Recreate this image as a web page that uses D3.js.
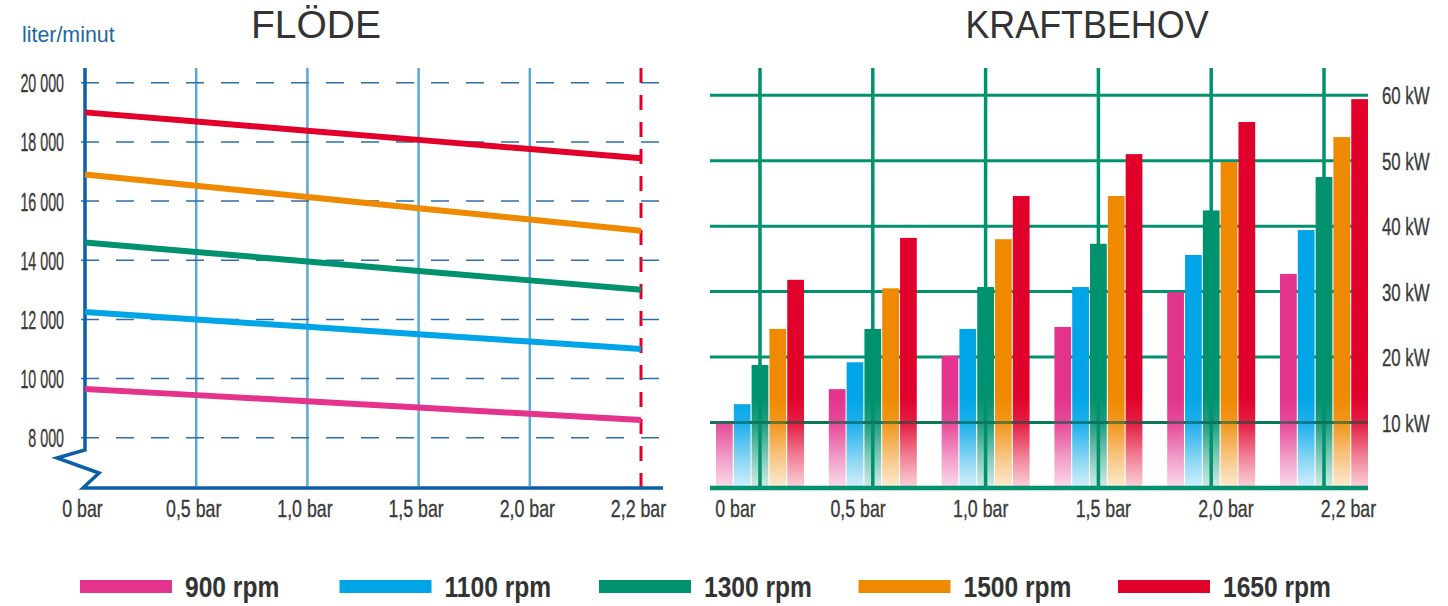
<!DOCTYPE html>
<html>
<head>
<meta charset="utf-8">
<script src="https://cdn.jsdelivr.net/npm/d3@7"></script>
<style>
  body { margin: 0; background: #fff; }
  svg { display: block; }
  text { font-family: 'Liberation Sans', Arial, sans-serif; fill: #3a3a3a; }
  .tick text { stroke: #3a3a3a; stroke-width: 0.35; }
</style>
</head>
<body>
<svg id="chart" width="1448" height="606"></svg>
<script>
const pressures = ["0 bar", "0,5 bar", "1,0 bar", "1,5 bar", "2,0 bar", "2,2 bar"];
const speeds = ["900 rpm", "1100 rpm", "1300 rpm", "1500 rpm", "1650 rpm"];
const colors = ["#e3338c", "#00a5e8", "#00916e", "#ef8900", "#e1002a"];

const flowTicks = [8000, 10000, 12000, 14000, 16000, 18000, 20000];
const powerTicks = [10, 20, 30, 40, 50, 60];

// FLÖDE, liter/minut
const flow900  = [9650, 9440, 9230, 9020, 8810, 8600];
const flow1100 = [12250, 12000, 11750, 11500, 11250, 11000];
const flow1300 = [14600, 14280, 13960, 13640, 13320, 13000];
const flow1500 = [16900, 16520, 16140, 15760, 15380, 15000];
const flow1650 = [19000, 18690, 18380, 18070, 17760, 17450];

// KRAFTBEHOV, kW
const power900  = [9.9, 15.1, 20.2, 24.6, 29.9, 32.7];
const power1100 = [12.8, 19.2, 24.3, 30.7, 35.6, 39.4];
const power1300 = [18.8, 24.3, 30.7, 37.3, 42.4, 47.5];
const power1500 = [24.3, 30.5, 38.0, 44.6, 49.8, 53.6];
const power1650 = [31.8, 38.2, 44.6, 51.0, 55.9, 59.4];

const flowSeries = [flow900, flow1100, flow1300, flow1500, flow1650];
const powerSeries = [power900, power1100, power1300, power1500, power1650];

const svg = d3.select("#chart");
const fmt = d => d3.format(",")(d).replace(",", " ");

// squeeze text horizontally (the original uses a condensed face)
function narrow(sel, k) {
  sel.each(function () {
    const t = d3.select(this);
    const x = +t.attr("x") || 0;
    t.attr("x", x / k).attr("transform", `scale(${k},1)`);
  });
}

// ---------- left chart: FLÖDE ----------
const xL = d3.scalePoint().domain(pressures).range([85, 641]);
const yL = d3.scaleLinear().domain([6300, 20500]).range([488, 68]);
const left = svg.append("g");

svg.append("text").attr("x", 316).attr("y", 38).attr("text-anchor", "middle")
  .attr("font-size", 39).style("fill", "#333").text("FLÖDE");
svg.append("text").attr("x", 22).attr("y", 42).attr("font-size", 23)
  .style("fill", "#1d67a6").text("liter/minut").call(narrow, 0.93);

// vertical grid
left.selectAll(".vgrid").data(pressures.slice(1, -1)).join("line")
  .attr("x1", d => xL(d)).attr("x2", d => xL(d))
  .attr("y1", yL.range()[1]).attr("y2", 486)
  .attr("stroke", "#5aa8d4").attr("stroke-width", 2.5);

// red dashed limit at 2,2 bar
left.append("line")
  .attr("x1", xL("2,2 bar")).attr("x2", xL("2,2 bar"))
  .attr("y1", yL.range()[1]).attr("y2", 488)
  .attr("stroke", "#e1002a").attr("stroke-width", 3).attr("stroke-dasharray", "15,12");

// dashed horizontal grid
left.selectAll(".hgrid").data(flowTicks).join("line")
  .attr("x1", 81).attr("x2", 663)
  .attr("y1", d => yL(d)).attr("y2", d => yL(d))
  .attr("stroke", "#2e6ea8").attr("stroke-width", 1.5).attr("stroke-dasharray", "18,17");

// axes
const yAxisL = left.append("g").attr("transform", `translate(${xL(pressures[0])},0)`)
  .call(d3.axisLeft(yL).tickValues(flowTicks).tickSize(0).tickPadding(21).tickFormat(fmt));
yAxisL.select(".domain").remove();
yAxisL.selectAll("text").attr("font-size", 25).style("fill", "#3a3a3a").attr("dy", "0.36em")
  .call(narrow, 0.57);

const xAxisL = left.append("g").attr("transform", "translate(-3,488)")
  .call(d3.axisBottom(xL).tickSize(0).tickPadding(12));
xAxisL.select(".domain").remove();
xAxisL.selectAll("text").attr("font-size", 24).style("fill", "#3a3a3a").call(narrow, 0.74);

// axis line with break
const x0L = xL(pressures[0]);
left.append("path")
  .attr("d", `M${x0L},${yL.range()[1]} V450 L${x0L - 28},458 L${x0L + 14},473 L${x0L - 2},488 H663`)
  .attr("fill", "none").attr("stroke", "#0b5ea8").attr("stroke-width", 3.5)
  .attr("stroke-linejoin", "miter");

// flow lines
const line = d3.line().x((d, i) => xL(pressures[i])).y(d => yL(d));
left.selectAll(".flow").data(flowSeries).join("path")
  .attr("d", line).attr("fill", "none")
  .attr("stroke", (d, i) => colors[i]).attr("stroke-width", 6);

// ---------- right chart: KRAFTBEHOV ----------
const x0 = d3.scaleBand().domain(pressures).range([716, 1368]).paddingInner(0.22);
const x1 = d3.scaleBand().domain(speeds).range([0, x0.bandwidth()]).paddingInner(0.06);
const yR = d3.scaleLinear().domain([0, 64]).range([488, 69]);
const xLab = d3.scalePoint().domain(pressures).range([735, 1348]);
const right = svg.append("g");

svg.append("text").attr("x", 1087).attr("y", 38).attr("text-anchor", "middle")
  .attr("font-size", 39).style("fill", "#333").text("KRAFTBEHOV").call(narrow, 0.92);

const defs = svg.append("defs");
colors.forEach((c, i) => {
  const g = defs.append("linearGradient").attr("id", "fade" + i)
    .attr("gradientUnits", "userSpaceOnUse")
    .attr("x1", 0).attr("x2", 0).attr("y1", yR(14)).attr("y2", yR(0));
  [[0, 1], [0.3, 0.88], [0.65, 0.5], [1, 0.17]].forEach(([o, a]) =>
    g.append("stop").attr("offset", o).attr("stop-color", c).attr("stop-opacity", a));
});

const green = "#00916e";
right.selectAll(".hgrid").data(powerTicks).join("line")
  .attr("x1", 710).attr("x2", 1368)
  .attr("y1", d => yR(d)).attr("y2", d => yR(d))
  .attr("stroke", green).attr("stroke-width", 3);
right.selectAll(".vgrid").data(pressures).join("line")
  .attr("x1", d => x0(d) + x0.bandwidth() / 2).attr("x2", d => x0(d) + x0.bandwidth() / 2)
  .attr("y1", 68).attr("y2", 488)
  .attr("stroke", green).attr("stroke-width", 3.5);

// bars
const groups = right.selectAll(".grp").data(pressures).join("g")
  .attr("transform", d => `translate(${x0(d)},0)`);
groups.selectAll("rect")
  .data((p, pi) => speeds.map((s, si) => ({ s, si, v: powerSeries[si][pi] })))
  .join("rect")
  .attr("x", d => x1(d.s)).attr("width", x1.bandwidth())
  .attr("y", d => yR(d.v)).attr("height", d => yR(0) - yR(d.v))
  .attr("fill", d => `url(#fade${d.si})`);

// lines drawn over the bars
right.append("line")
  .attr("x1", 710).attr("x2", 1368).attr("y1", yR(10)).attr("y2", yR(10))
  .attr("stroke", "#1a5f4c").attr("stroke-width", 3).attr("opacity", 0.55);
right.append("line")
  .attr("x1", 710).attr("x2", 1368).attr("y1", yR(0)).attr("y2", yR(0))
  .attr("stroke", green).attr("stroke-width", 4.5);

const yAxisR = right.append("g").attr("transform", "translate(1368,0)")
  .call(d3.axisRight(yR).tickValues(powerTicks).tickSize(0).tickPadding(14).tickFormat(d => d + " kW"));
yAxisR.select(".domain").remove();
yAxisR.selectAll("text").attr("font-size", 24).style("fill", "#3a3a3a").attr("dy", "0.36em")
  .call(narrow, 0.7);

const xAxisR = right.append("g").attr("transform", "translate(0,488)")
  .call(d3.axisBottom(xLab).tickSize(0).tickPadding(12));
xAxisR.select(".domain").remove();
xAxisR.selectAll("text").attr("font-size", 24).style("fill", "#3a3a3a").call(narrow, 0.74);

// ---------- legend ----------
const xLeg = d3.scalePoint().domain(speeds).range([80, 1118]);
const legend = svg.append("g").selectAll("g").data(speeds).join("g")
  .attr("transform", d => `translate(${xLeg(d)},580)`);
legend.append("rect").attr("width", 92).attr("height", 13)
  .attr("fill", (d, i) => colors[i]);
legend.append("text").attr("x", 105).attr("y", 17)
  .attr("font-size", 30).attr("font-weight", "bold")
  .style("fill", "#333").text(d => d).call(narrow, 0.82);
</script>
</body>
</html>
